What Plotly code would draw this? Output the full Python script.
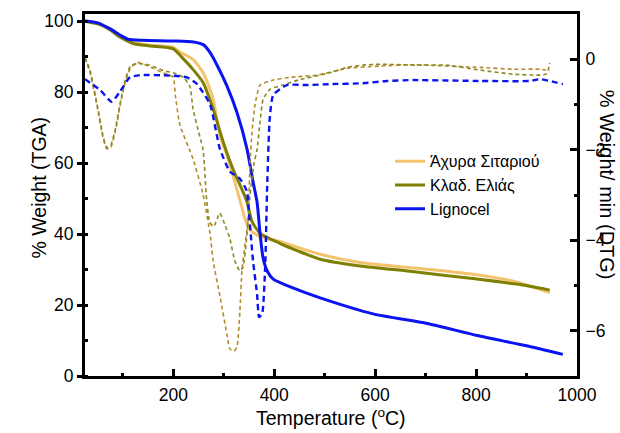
import plotly.graph_objects as go

# ---------------- data ----------------
# TGA (left axis, % weight)
wheat_T = [25, 55, 75, 94, 120, 154, 200, 213, 239, 259, 279, 292, 306, 318, 332, 342, 352, 372, 411, 491, 570, 703, 802, 880, 946]
wheat_W = [100, 99.2, 97.8, 96.0, 94.0, 93.2, 92.6, 91.3, 89.2, 85.5, 78.0, 67.8, 62.3, 56.6, 49.5, 44.4, 41.2, 39.3, 37.9, 34.3, 32.0, 30.1, 28.5, 26.5, 23.5]

olive_T = [25, 55, 75, 94, 120, 154, 200, 219, 239, 259, 279, 299, 318, 338, 346, 356, 372, 411, 491, 570, 669, 802, 880, 946]
olive_W = [100, 99.0, 97.5, 95.5, 93.7, 93.0, 92.2, 89.5, 86.4, 82.7, 75.2, 65.9, 58.4, 51.9, 49.1, 43.5, 40.2, 37.4, 32.9, 31.0, 29.5, 27.3, 25.9, 24.2]

ligno_T = [25, 50, 75, 95, 110, 140, 200, 240, 260, 273, 287, 306, 326, 346, 358, 366, 372, 378, 386, 398, 437, 491, 596, 703, 802, 900, 972]
ligno_W = [100, 99.5, 97.8, 96.0, 94.9, 94.6, 94.4, 94.1, 93.3, 91.1, 87.5, 81.8, 74.3, 64.0, 54.7, 49.0, 40.0, 33.2, 29.6, 27.3, 24.8, 22.0, 17.5, 14.8, 11.4, 8.5, 6.1]

# DTG (right axis, % weight / min)
wheat_dT = [25, 35, 50, 60, 68, 76, 85, 95, 105, 115, 128, 150, 180, 193, 200, 204, 213, 239, 259, 273, 279, 293, 306, 312, 320, 326, 332, 336, 342, 348, 352, 356, 362, 372, 398, 431, 485, 544, 610, 675, 742, 808, 873, 927, 946]
wheat_D = [0.02, -0.3, -1.1, -1.7, -1.98, -1.95, -1.6, -1.0, -0.5, -0.2, -0.07, -0.15, -0.3, -0.35, -0.4, -0.79, -1.45, -2.2, -2.99, -3.87, -4.46, -5.27, -6.07, -6.4, -6.45, -6.37, -5.56, -4.68, -4.09, -3.58, -2.3, -1.6, -1.0, -0.57, -0.46, -0.4, -0.35, -0.2, -0.15, -0.12, -0.15, -0.18, -0.22, -0.22, -0.25]

olive_dT = [25, 35, 50, 60, 68, 76, 85, 95, 105, 115, 128, 150, 180, 200, 220, 233, 239, 250, 259, 266, 272, 280, 292, 302, 312, 322, 332, 338, 345, 352, 360, 366, 372, 378, 392, 417, 451, 510, 544, 576, 610, 675, 742, 808, 873, 927, 940, 946]
olive_D = [0.05, -0.25, -1.05, -1.65, -1.95, -1.9, -1.55, -0.95, -0.45, -0.15, -0.1, -0.12, -0.25, -0.3, -0.4, -0.6, -1.1, -1.6, -2.0, -3.1, -3.6, -3.7, -3.4, -3.65, -3.96, -4.46, -4.68, -4.6, -4.0, -3.0, -2.3, -2.0, -1.38, -0.88, -0.66, -0.57, -0.45, -0.3, -0.18, -0.13, -0.11, -0.13, -0.13, -0.24, -0.33, -0.35, -0.32, -0.08]

ligno_dT = [25, 55, 78, 94, 114, 134, 193, 227, 247, 273, 292, 312, 332, 346, 348, 358, 366, 370, 376, 382, 386, 391, 398, 425, 465, 510, 576, 623, 675, 808, 907, 927, 972]
ligno_D = [-0.44, -0.68, -0.94, -0.72, -0.4, -0.35, -0.36, -0.4, -0.55, -1.0, -1.97, -2.48, -2.64, -2.92, -3.14, -4.46, -5.19, -5.7, -5.63, -4.6, -2.8, -1.32, -0.79, -0.57, -0.57, -0.55, -0.53, -0.48, -0.46, -0.48, -0.48, -0.44, -0.55]

names = ["Άχυρα Σιταριού", "Κλαδ. Ελιάς", "Lignocel"]
x_ticks = [200, 400, 600, 800, 1000]
y_ticks = [0, 20, 40, 60, 80, 100]
y2_ticks = [-6, -4, -2, 0]

# ---------------- figure ----------------
FONT = "Liberation Sans, Arial, sans-serif"
fig = go.Figure()

fig.add_trace(go.Scatter(x=wheat_T, y=wheat_W, name=names[0], mode="lines",
                         line=dict(color="#f2c46e", width=3, shape="spline", smoothing=0.6)))
fig.add_trace(go.Scatter(x=olive_T, y=olive_W, name=names[1], mode="lines",
                         line=dict(color="#7f7f00", width=3, shape="spline", smoothing=0.6)))
fig.add_trace(go.Scatter(x=ligno_T, y=ligno_W, name=names[2], mode="lines",
                         line=dict(color="#0a14f0", width=3, shape="spline", smoothing=0.6)))

fig.add_trace(go.Scatter(x=wheat_dT, y=wheat_D, yaxis="y2", mode="lines", showlegend=False,
                         line=dict(color="#b48c2c", width=1.6, dash="4px,3px", shape="spline", smoothing=0.5)))
fig.add_trace(go.Scatter(x=olive_dT, y=olive_D, yaxis="y2", mode="lines", showlegend=False,
                         line=dict(color="#8c8a26", width=1.6, dash="4px,3px", shape="spline", smoothing=0.5)))
fig.add_trace(go.Scatter(x=ligno_dT, y=ligno_D, yaxis="y2", mode="lines", showlegend=False,
                         line=dict(color="#0a14f0", width=2.4, dash="6px,4px", shape="spline", smoothing=0.5)))

fig.update_layout(
    width=620, height=433,
    margin=dict(l=85, r=43, t=11, b=57),
    paper_bgcolor="white", plot_bgcolor="white",
    font=dict(family=FONT, size=17, color="black"),
    showlegend=True,
    legend=dict(x=0.62, y=0.64, xanchor="left", yanchor="top",
                bgcolor="rgba(0,0,0,0)", font=dict(size=16),
                itemwidth=30, tracegroupgap=0),
    xaxis=dict(range=[25, 1000], tickvals=x_ticks, showgrid=False, zeroline=False,
               showline=True, linecolor="black", linewidth=3, mirror=True,
               ticks="inside", ticklen=7, tickwidth=2.5, tickcolor="black",
               minor=dict(dtick=100, tick0=0, ticks="inside", ticklen=3, tickwidth=2.5, tickcolor="black"),
               tickfont=dict(size=17.5), ticklabelstandoff=1),
    yaxis=dict(range=[0, 102], tickvals=y_ticks, showgrid=False, zeroline=False,
               showline=True, linecolor="black", linewidth=3,
               ticks="outside", ticklen=5, tickwidth=2.5, tickcolor="black",
               minor=dict(dtick=10, tick0=0, ticks="inside", ticklen=3, tickwidth=2.5, tickcolor="black"),
               tickfont=dict(size=17.5), ticklabelstandoff=0),
    yaxis2=dict(range=[-7, 1], tickvals=y2_ticks, overlaying="y", side="right",
                showgrid=False, zeroline=False,
                showline=True, linecolor="black", linewidth=3,
                ticks="inside", ticklen=7, tickwidth=2.5, tickcolor="black",
                minor=dict(dtick=1, tick0=0, ticks="inside", ticklen=3, tickwidth=2.5, tickcolor="black"),
                tickfont=dict(size=17.5), ticklabelstandoff=2),
    annotations=[
        dict(text="% Weight (TGA)", xref="paper", yref="paper", x=-0.094, y=0.52,
             xanchor="center", yanchor="middle", textangle=-90, showarrow=False,
             font=dict(size=19.5)),
        dict(text="% Weight/ min (DTG)", xref="paper", yref="paper", x=1.061, y=0.528,
             xanchor="center", yanchor="middle", textangle=90, showarrow=False,
             font=dict(size=20)),
        dict(text="Temperature (<sup>o</sup>C)", xref="paper", yref="paper", x=0.5, y=-0.112,
             xanchor="center", yanchor="middle", showarrow=False,
             font=dict(size=19.5)),
    ],
)

fig.write_html("out.html")
